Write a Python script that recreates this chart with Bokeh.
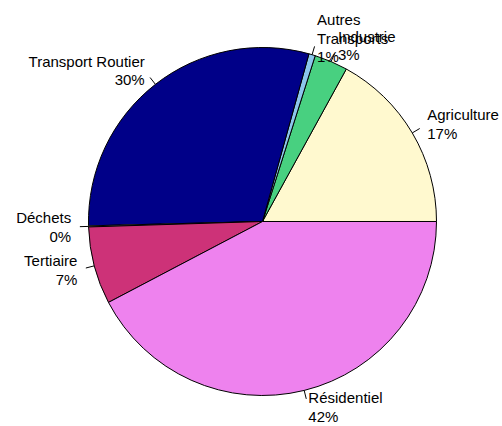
import numpy as np
from bokeh.plotting import figure
from bokeh.models import ColumnDataSource, Range1d
from bokeh.core.properties import value
from bokeh.embed import file_html
from bokeh.resources import INLINE

# Data (percent shares), counter-clockwise from 3 o'clock
labels = ["Agriculture", "Industrie", "Autres\nTransports", "Transport Routier",
          "Déchets", "Tertiaire", "Résidentiel"]
shares = [17.0, 3.1, 0.6, 29.7, 0.1, 7.2, 42.3]
pct_labels = ["17%", "3%", "1%", "30%", "0%", "7%", "42%"]
colors = ["#FFF9CF", "#48D080", "#8CC6EC", "#000088", "#FFFFFF", "#CD3278", "#EE82EE"]

W, H = 502, 426
R_PX = 174.0
CX, CY = 262, 221  # centre in figure pixels

vals = np.array(shares, dtype=float)
frac = vals / vals.sum()
ends = np.cumsum(frac) * 2 * np.pi
starts = np.concatenate([[0.0], ends[:-1]])
mids = (starts + ends) / 2

src = ColumnDataSource(dict(start=starts, end=ends, color=colors))

p = figure(width=W, height=H, output_backend="svg", toolbar_location=None,
           min_border=0, outline_line_color=None)
p.x_range = Range1d(-CX / R_PX, (W - CX) / R_PX)
p.y_range = Range1d(-(H - CY) / R_PX, CY / R_PX)
p.axis.visible = False
p.grid.visible = False
p.background_fill_color = "white"
p.border_fill_color = "white"

p.wedge(x=0, y=0, radius=1.0, start_angle="start", end_angle="end",
        fill_color="color", line_color="black", line_width=1, source=src)

# tick lines
cosm, sinm = np.cos(mids), np.sin(mids)
p.segment(x0=cosm, y0=sinm, x1=1.05 * cosm, y1=1.05 * sinm,
          line_color="black", line_width=1)

texts = [f"{l}\n{pc}" for l, pc in zip(labels, pct_labels)]
align = ["left" if c > 0 else "right" for c in cosm]
tsrc = ColumnDataSource(dict(x=1.1 * cosm, y=1.1 * sinm, t=texts, a=align))
p.text(x="x", y="y", text="t", text_align="a", text_baseline="middle",
       text_font=value("Liberation Sans"), text_font_size="15px",
       text_color="black", text_line_height=1.1, source=tsrc)

open("out.html", "w").write(file_html(p, INLINE))
